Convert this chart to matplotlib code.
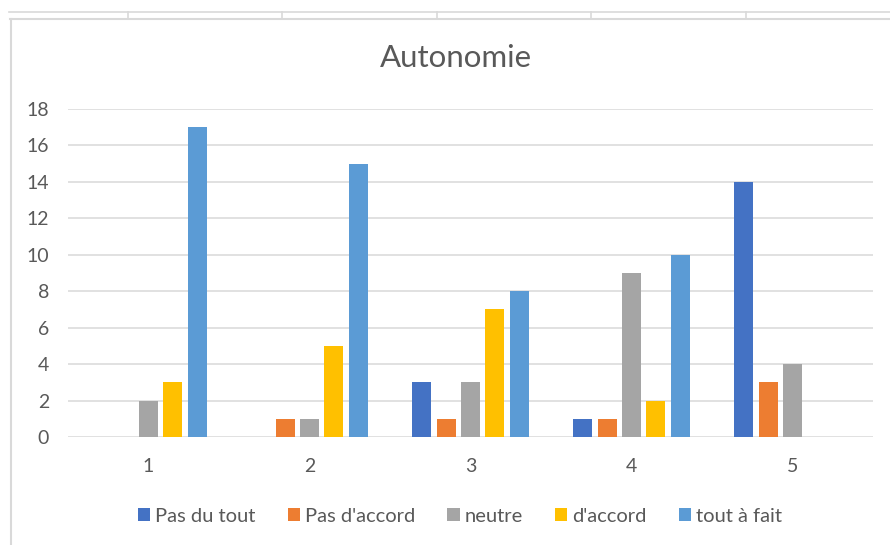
import matplotlib
matplotlib.use("Agg")
import matplotlib.pyplot as plt
from matplotlib.lines import Line2D
import numpy as np

categories = ["1", "2", "3", "4", "5"]
series_names = ["Pas du tout", "Pas d'accord", "neutre", "d'accord", "tout à fait"]
pas_du_tout = [0, 0, 3, 1, 14]
pas_daccord = [0, 1, 1, 1, 3]
neutre = [2, 1, 3, 9, 4]
daccord = [3, 5, 7, 2, 0]
tout_a_fait = [17, 15, 8, 10, 0]
yticks = [0, 2, 4, 6, 8, 10, 12, 14, 16, 18]

series = [pas_du_tout, pas_daccord, neutre, daccord, tout_a_fait]
colors = ["#4472C4", "#ED7D31", "#A5A5A5", "#FFC000", "#5B9BD5"]
text_color = "#595959"
grid_color = "#d9d9d9"

plt.rcParams["font.family"] = ["Lato", "DejaVu Sans"]

W, H = 890, 545
fig = plt.figure(figsize=(W / 100, H / 100), dpi=100)

# spreadsheet cells behind the chart
def px_line(x0, y0, x1, y1, lw=1.2):
    fig.add_artist(Line2D([x0 / W, x1 / W], [1 - y0 / H, 1 - y1 / H],
                          color=grid_color, lw=lw, transform=fig.transFigure))

px_line(9, 11.5, W, 11.5)
px_line(10, 19, W, 19, lw=1.5)
px_line(11, 19, 11, H, lw=1.5)
for xc in [128, 282, 437, 591, 746]:
    px_line(xc, 11.5, xc, 19)

ax = fig.add_axes([68 / W, (H - 437) / H, (873 - 68) / W, (437 - 109) / H])

x = np.arange(len(categories))
pitch = 0.152
width = 0.118
for i, (vals, name, c) in enumerate(zip(series, series_names, colors)):
    ax.bar(x + (i - 2) * pitch, vals, width, color=c, label=name, zorder=3,
           linewidth=0)

ax.set_xlim(-0.5, len(categories) - 0.5)
ax.set_ylim(0, 18)
ax.set_yticks(yticks)
ax.set_xticks(x)
ax.set_xticklabels(categories)
ax.yaxis.grid(True, color=grid_color, lw=1.1, zorder=0)
ax.set_axisbelow(True)
for s in ax.spines.values():
    s.set_visible(False)
ax.tick_params(axis="y", length=0, pad=13.5, labelsize=14, labelcolor=text_color)
ax.tick_params(axis="x", length=0, pad=15, labelsize=14, labelcolor=text_color)

fig.text(456 / W, 1 - 58 / H, "Autonomie", ha="center", va="center",
         fontsize=22.5, color=text_color)

leg = fig.legend(loc="center", bbox_to_anchor=(460 / W, 1 - 516 / H), ncol=5,
                 frameon=False, fontsize=14.5, handlelength=0.6,
                 handleheight=0.6, handletextpad=0.25, columnspacing=1.6,
                 borderpad=0)
for t in leg.get_texts():
    t.set_color(text_color)

fig.savefig("out.png", dpi=100)
plt.close(fig)
